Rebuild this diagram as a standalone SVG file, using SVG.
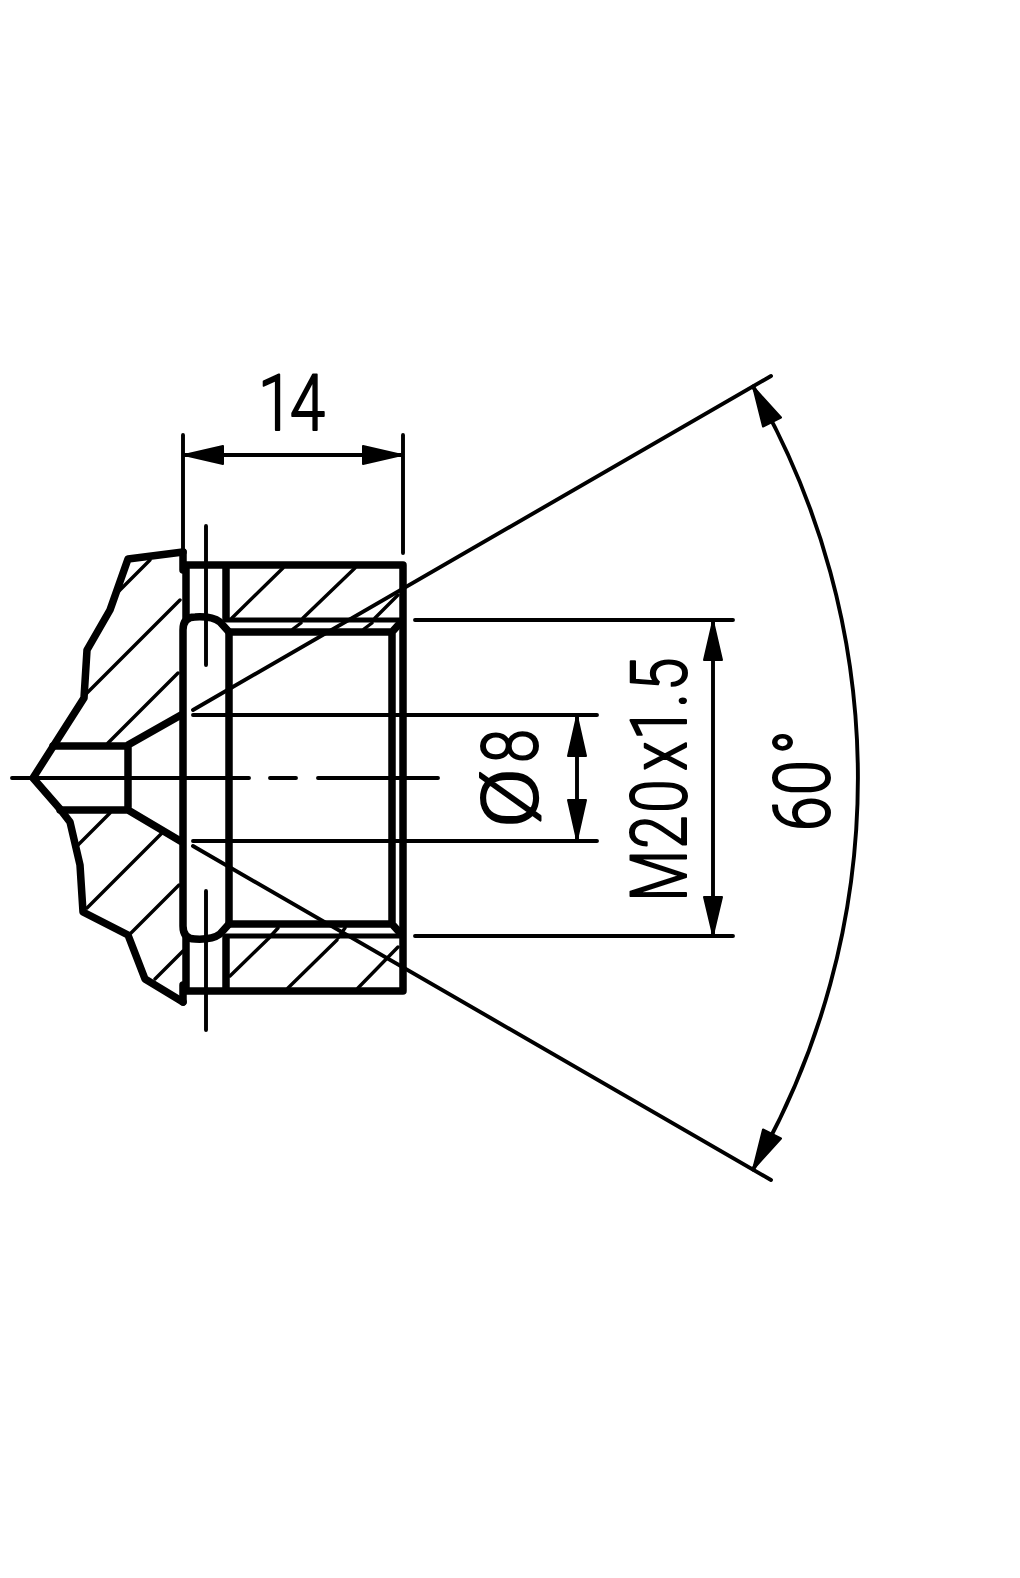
<svg xmlns="http://www.w3.org/2000/svg" width="1020" height="1578" viewBox="0 0 1020 1578">
<style>
.k{fill:none;stroke:#000;stroke-linecap:round;stroke-linejoin:round}
.o{stroke-width:7.5}
.m{stroke-width:5}
.t{stroke-width:3.9}
.h{stroke-width:3.4}
.a{fill:#000;stroke:#000;stroke-width:2;stroke-linejoin:round}
text{font-family:"Roboto","Liberation Sans",sans-serif;font-weight:300;font-size:77px;fill:#000;stroke:#000;stroke-width:2;stroke-linejoin:round}
</style>
<rect width="1020" height="1578" fill="#fff"/>
<g id="part">
<path class="k o" d="M183 552L128 559L110 610L87 650L84 698L33 778L60 809L70 822L80 865L83 912L128 935L145 979L183 1002"/>
<path class="k o" d="M183 552V570M183 985V1002"/>
<path class="k o" d="M53 746H128V810H60M128 745L181 715M128 810L182 842"/>
<path class="k o" d="M186 618V565H403V991H186V938M226 565V618M226 938V991"/>
<path class="k o" d="M183 630Q183 617 195 617Q212 616 220 622L229 632V924L220 934Q212 940 195 939Q183 939 183 926Z"/>
<path class="k o" d="M229 632H392M229 924H392M392 632V924M392 632L401 622M392 924L401 934"/>
<path class="k m" d="M226 620H403M226 936H403"/>
</g>
<g id="hatching">
<path class="k h" d="M150 560L118 592M180 600L87 693M178 673L108 743M110 813L78 845M162 833L87 908M179 885L131 933M183 951L155 979"/>
<path class="k h" d="M283 568L232 618M355 568L303 618M301 623L293 629M398 595L375 618M372 623L364 629"/>
<path class="k h" d="M278 928L268 939M267 940L230 976M345 928L338 938M337 940L288 988M398 947L358 988"/>
</g>
<g id="centerlines">
<path class="k t" d="M12 778H249M270 778H296M318 778H438M206 526V665M206 891V1030"/>
</g>
<g id="connectors">
<path class="k t" d="M183 435V552M403 435V553M183 455H403"/>
<path class="k t" d="M193 710L771 376M193 846L771 1180"/>
<path class="k t" d="M193 715H597M193 841H597M415 620H733M415 936H733"/>
<path class="k t" d="M577 715V841M713 620V936"/>
<path class="k t" d="M753 386.5A783 783 0 0 1 753 1169.5"/>
<polygon class="a" points="184,455 223,446 223,464"/>
<polygon class="a" points="402,455 363,446 363,464"/>
<polygon class="a" points="577,716 568,756 586,756"/>
<polygon class="a" points="577,840 568,800 586,800"/>
<polygon class="a" points="713,621 704,660 722,660"/>
<polygon class="a" points="713,935 704,897 722,897"/>
<polygon class="a" points="753,386.5 781,417.5 763,426.5"/>
<polygon class="a" points="753,1169.5 781,1138.5 763,1129.5"/>
</g>
<g id="labels">
<text transform="translate(263 430) scale(.82 1)" x="-6 33">14</text>
<text transform="translate(537 825) rotate(-90)"><tspan x="-3" textLength="60" lengthAdjust="spacingAndGlyphs">Ø</tspan><tspan x="62" textLength="34" lengthAdjust="spacingAndGlyphs">8</tspan></text>
<text transform="translate(686 897) rotate(-90) scale(.78 1)" x="-6 62 108 162 201 243 264">M20x1.5</text>
<text transform="translate(829 828) rotate(-90) scale(.82 1)" x="-4 40 90">60°</text>
</g>
</svg>
